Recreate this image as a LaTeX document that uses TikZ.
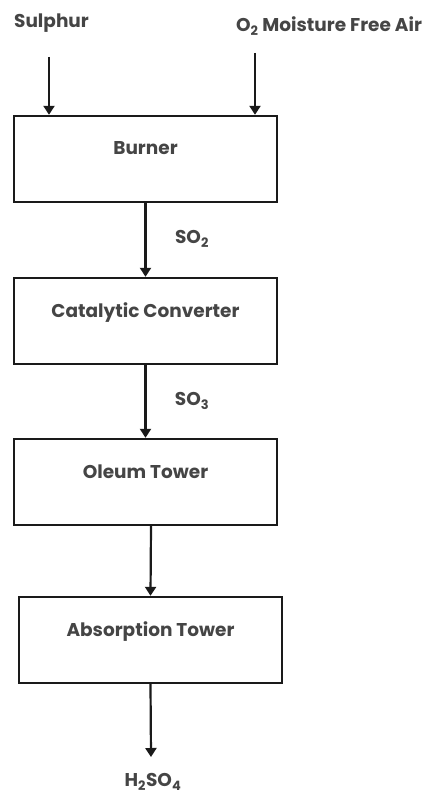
\documentclass[tikz,border=0pt]{standalone}
\usepackage{fontspec}
\setmainfont{Poppins}
\usetikzlibrary{arrows.meta}
\definecolor{txt}{HTML}{454545}
\definecolor{ln}{HTML}{1A1A1A}
\tikzset{
  box/.style={draw=ln, line width=2.4pt, rectangle, minimum width=263pt,
    inner xsep=0pt, inner ysep=0pt, text height=39pt, text depth=47pt,
    font=\fontsize{18.5}{22}\selectfont\bfseries, text=txt},
  lbl/.style={font=\fontsize{18.5}{22}\selectfont\bfseries, text=txt, inner sep=0pt},
  flow/.style={draw=ln, line width=2.2pt, -{Triangle[width=11pt,length=9pt]}}
}
\begin{document}
\begin{tikzpicture}[x=1pt,y=-1pt]
\useasboundingbox (0,0) rectangle (435,794);
\node[box] (burner) at (145.5,159) {Burner};
\node[box] (cat) at (145.5,321) {Catalytic Converter};
\node[box] (oleum) at (145.5,482) {Oleum Tower};
\node[box] (abs) at (150.5,640) {Absorption Tower};
\node[lbl] (sul) at (51.5,23) {Sulphur};
\node[lbl] (o2) at (329,26) {O\textsubscript{2} Moisture Free Air};
\node[lbl] (so2) at (192,239) {SO\textsubscript{2}};
\node[lbl] (so3) at (192,401) {SO\textsubscript{3}};
\node[lbl] (h2so4) at (153,782) {H\textsubscript{2}SO\textsubscript{4}};
\coordinate (sulend) at (49,57);
\coordinate (o2end) at (255,53);
\coordinate (prodend) at (151,757);
\draw[flow] (sulend) -- (sulend |- burner.north);
\draw[flow] (o2end) -- (o2end |- burner.north);
\draw[flow] (burner.south) -- (cat.north);
\draw[flow] (cat.south) -- (oleum.north);
\draw[flow] (151,0 |- oleum.south) -- (abs.north);
\draw[flow] (abs.south) -- (prodend);
\end{tikzpicture}
\end{document}
